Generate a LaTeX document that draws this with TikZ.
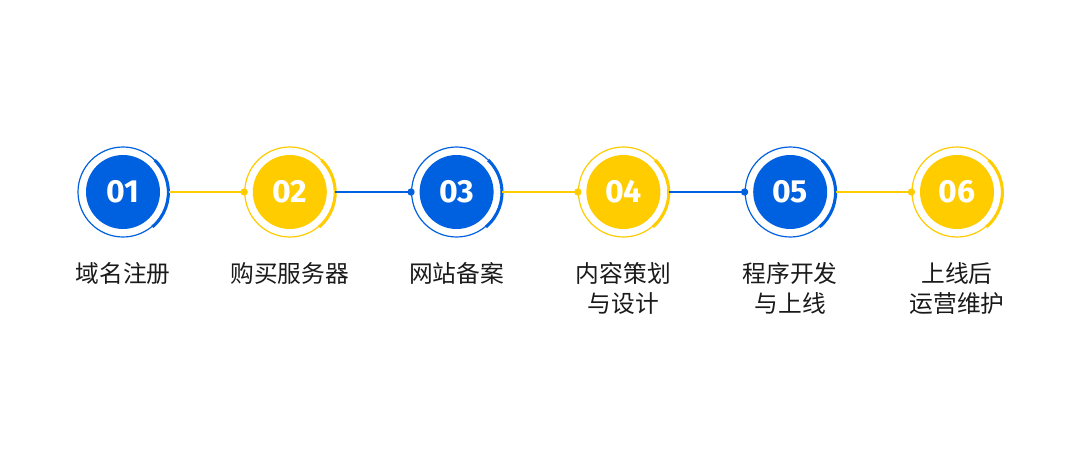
\documentclass[tikz,border=0pt]{standalone}
\usepackage{fontspec}
\newfontfamily\cjk{Noto Sans CJK SC}
\newfontfamily\numfont{Fira Sans}
\definecolor{cblue}{HTML}{0061E0}
\definecolor{cyellow}{HTML}{FFCC00}
\definecolor{ctext}{HTML}{1A1A1A}
\begin{document}
\begin{tikzpicture}[x=0.75pt,y=-0.75pt,
  ring/.style={circle,draw=#1,line width=0.9pt,minimum size=67.5pt,inner sep=0pt},
  disc/.style={circle,fill=#1,minimum size=55.5pt,inner sep=0pt,text=white,font=\numfont\bfseries\fontsize{24}{26}\selectfont},
  lbl/.style={anchor=north,align=center,text=ctext,inner sep=0pt,font=\cjk\fontsize{17.8}{22.5}\selectfont},
  conn/.style={draw=#1,line width=1.2pt},
  dotc/.style={circle,fill=#1,minimum size=5.5pt,inner sep=0pt}]
\fill[white] (0,0) rectangle (1080,460);
\useasboundingbox (0,0) rectangle (1080,460);
\foreach \i/\c/\t in {1/cblue/{域名注册},2/cyellow/{购买服务器},3/cblue/{网站备案},4/cyellow/{内容策划\\与设计},5/cblue/{程序开发\\与上线},6/cyellow/{上线后\\运营维护}}{
  \pgfmathsetmacro{\xx}{123+166.8*(\i-1)}
  \node[ring=\c] (r\i) at (\xx,192) {};
  \node[disc=\c] (d\i) at (\xx,192) {0\i};
  \draw[\c,line width=2.3pt] (r\i.-50) arc[start angle=-50,end angle=46,radius=33.75pt];
  \node[lbl] (t\i) at (\xx,262) {\t};
}
\foreach \a/\b/\c in {1/2/cyellow,2/3/cblue,3/4/cyellow,4/5/cblue,5/6/cyellow}{
  \node[dotc=\c] (p\b) at (r\b.west) {};
  \draw[conn=\c] (r\a.east) -- (p\b.center);
}
\end{tikzpicture}
\end{document}
